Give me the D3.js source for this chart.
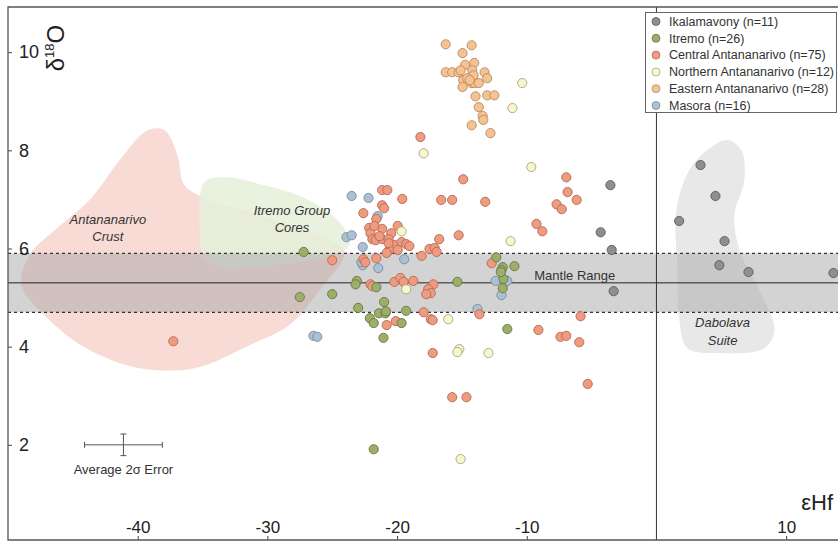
<!DOCTYPE html>
<html>
<head>
<meta charset="utf-8">
<script src="https://cdn.jsdelivr.net/npm/d3@7/dist/d3.min.js"></script>
<style>
  html, body { margin: 0; padding: 0; background: #fff; }
  svg { display: block; font-family: "Liberation Sans", Arial, sans-serif; }
</style>
</head>
<body>
<svg id="chart" width="838" height="542"></svg>
<script>
// ---- Data: [εHf, δ18O] per zircon analysis ----
const ikalamavony = [
  [-3.55, 7.29], [-4.3, 6.33], [-3.45, 5.97], [-3.3, 5.13], [1.75, 6.56], [3.4, 7.7],
  [4.55, 7.07], [5.25, 6.15], [4.85, 5.66], [7.1, 5.52], [13.65, 5.5]
];
const itremo = [
  [-27.2, 5.93], [-23.1, 5.34], [-23.2, 5.27], [-21.6, 5.21], [-15.35, 5.32], [-27.5, 5.01],
  [-25.0, 5.07], [-21.0, 4.91], [-23.0, 4.79], [-22.1, 4.58], [-21.8, 4.48], [-21.4, 4.68],
  [-20.9, 4.68], [-19.3, 4.73], [-19.65, 4.48], [-21.05, 4.18], [-12.35, 5.82], [-11.85, 5.62],
  [-10.95, 5.64], [-11.95, 5.56], [-11.8, 5.38], [-11.85, 5.19], [-11.5, 4.36], [-21.8, 1.91],
  [-20.85, 4.72], [-12.0, 5.52]
];
const centralAntananarivo = [
  [-37.25, 4.11], [-18.2, 8.27], [-14.9, 7.41], [-21.15, 7.19], [-20.75, 7.19], [-19.6, 7.01],
  [-16.6, 6.99], [-15.75, 6.99], [-21.15, 6.88], [-22.6, 6.72], [-21.6, 6.6], [-22.15, 6.42],
  [-21.15, 6.4], [-19.95, 6.46], [-20.45, 6.31], [-22.05, 6.31], [-21.9, 6.19], [-21.65, 6.17],
  [-21.15, 6.19], [-20.65, 6.19], [-15.25, 6.27], [-16.75, 6.19], [-20.2, 6.07], [-19.65, 6.13],
  [-19.3, 6.09], [-20.6, 5.97], [-20.8, 5.91], [-17.5, 5.99], [-17.1, 6.01], [-18.1, 5.85],
  [-21.6, 5.8], [-25.0, 5.76], [-22.6, 5.78], [-22.05, 5.27], [-20.2, 5.32], [-19.75, 5.4],
  [-18.75, 5.34], [-17.2, 5.27], [-17.6, 5.17], [-17.4, 5.09], [-17.95, 4.7], [-17.4, 4.56],
  [-20.1, 4.52], [-20.8, 4.44], [-17.25, 3.87], [-13.2, 6.95], [-6.95, 7.45], [-6.85, 7.15],
  [-6.15, 6.99], [-7.7, 6.9], [-7.3, 6.8], [-9.25, 6.5], [-8.8, 6.35], [-12.7, 5.7],
  [-13.65, 4.66], [-5.85, 4.62], [-9.1, 4.34], [-7.4, 4.2], [-6.95, 4.22], [-5.95, 4.09],
  [-5.3, 3.24], [-14.65, 2.97], [-15.75, 2.97], [-21.0, 6.82], [-21.75, 6.46], [-21.35, 6.25],
  [-19.95, 5.97], [-19.05, 6.05], [-20.65, 6.11], [-17.75, 5.07], [-19.5, 5.32], [-21.9, 5.23],
  [-22.45, 5.72], [-16.95, 5.93], [-17.25, 4.54]
];
const northernAntananarivo = [
  [-10.35, 9.37], [-11.1, 8.86], [-19.65, 6.35], [-19.3, 5.17], [-16.05, 4.56], [-15.2, 3.95],
  [-15.35, 3.89], [-9.65, 7.66], [-11.25, 6.15], [-12.95, 3.87], [-17.95, 7.94], [-15.1, 1.71]
];
const easternAntananarivo = [
  [-16.25, 10.16], [-14.25, 10.14], [-14.95, 9.98], [-14.75, 9.74], [-14.05, 9.78], [-16.25, 9.59],
  [-15.75, 9.59], [-15.25, 9.59], [-14.2, 9.63], [-13.25, 9.59], [-13.05, 9.47], [-14.9, 9.43],
  [-14.25, 9.37], [-14.05, 9.37], [-13.7, 9.37], [-14.95, 9.29], [-13.95, 9.1], [-13.05, 9.12],
  [-12.5, 9.12], [-13.7, 8.88], [-13.4, 8.7], [-13.35, 8.62], [-14.25, 8.51], [-12.8, 8.35],
  [-14.1, 9.53], [-14.6, 9.47], [-15.1, 9.63], [-14.4, 9.43]
];
const masora = [
  [-23.5, 7.07], [-22.2, 7.03], [-21.5, 6.66], [-23.9, 6.23], [-23.5, 6.27], [-22.65, 6.03],
  [-22.65, 5.66], [-21.45, 5.6], [-19.45, 5.78], [-26.45, 4.22], [-26.15, 4.2], [-12.4, 5.34],
  [-11.5, 5.34], [-11.95, 5.05], [-13.8, 4.77], [-22.75, 5.72]
];

// Field outlines [εHf, δ18O]
const antananarivoCrust = [
  [-48.96, 5.25], [-48.34, 5.87], [-46.41, 6.37], [-43.72, 6.99], [-41.4, 7.8], [-39.24, 8.41],
  [-37.93, 8.41], [-36.93, 7.9], [-36.39, 7.29], [-34.46, 6.99], [-30.61, 6.68], [-25.98, 6.27],
  [-24.06, 5.93], [-25.98, 5.15], [-28.3, 4.44], [-31.38, 4.03], [-35.62, 3.56], [-39.86, 3.56],
  [-43.72, 3.93], [-46.8, 4.54]
];
const itremoCores = [
  [-34.85, 7.35], [-33.31, 7.45], [-30.22, 7.29], [-27.14, 7.03], [-24.44, 6.54], [-23.67, 6.07],
  [-25.98, 5.8], [-29.84, 5.66], [-33.31, 5.6], [-34.85, 5.8], [-35.24, 6.48]
];
const dabolavaSuite = [
  [5.47, 8.21], [6.55, 8.0], [6.78, 7.39], [6.01, 6.68], [6.4, 5.97], [7.94, 5.15], [9.1, 4.34],
  [8.33, 3.97], [4.86, 3.87], [2.39, 3.97], [1.77, 4.54], [1.62, 5.56], [1.54, 6.78], [2.54, 7.6],
  [4.09, 8.04]
];

// Mantle zircon δ18O: 5.3 ± 0.6
const mantleMean = 5.3;
const mantleRange = [4.7, 5.9];

// Average analytical uncertainty (2σ)
const errorCenter = [-41.1, 2.0];
const errorHalf = [3.0, 0.22];

const xTicks = [-40, -30, -20, -10, 10];
const yTicks = [2, 4, 6, 8, 10];

const groups = [
  { name: "Ikalamavony (n=11)", data: ikalamavony, fill: "#8f8f8f", stroke: "#5c5c5c" },
  { name: "Itremo (n=26)", data: itremo, fill: "#9cae6a", stroke: "#667843" },
  { name: "Central Antananarivo (n=75)", data: centralAntananarivo, fill: "#ee9b80", stroke: "#b36953" },
  { name: "Northern Antananarivo (n=12)", data: northernAntananarivo, fill: "#f6f7cf", stroke: "#a8a67a" },
  { name: "Eastern Antananarivo (n=28)", data: easternAntananarivo, fill: "#f6c291", stroke: "#b68b60" },
  { name: "Masora (n=16)", data: masora, fill: "#abc0d2", stroke: "#7a8d9e" }
];
const drawOrder = ["Masora (n=16)", "Central Antananarivo (n=75)", "Northern Antananarivo (n=12)",
  "Itremo (n=26)", "Eastern Antananarivo (n=28)", "Ikalamavony (n=11)"];

// ---- Layout ----
const frameLeft = 8, frameRight = 838, frameTop = 7, frameBottom = 540;

const x = d3.scaleLinear().domain([-50, 14]).range([frameLeft, frameRight]);
const y = d3.scaleLinear().domain([0, 10.92]).range([543, frameTop]);

const svg = d3.select("#chart");

svg.append("defs").append("clipPath").attr("id", "plot-clip")
  .append("rect").attr("x", frameLeft).attr("y", frameTop)
  .attr("width", frameRight - frameLeft).attr("height", frameBottom - frameTop);

const plot = svg.append("g").attr("clip-path", "url(#plot-clip)");

const outline = d3.line().x(d => x(d[0])).y(d => y(d[1])).curve(d3.curveCatmullRomClosed.alpha(0.5));

// Fields
plot.append("path").datum(antananarivoCrust).attr("d", outline).attr("fill", "#f9dbd6");
plot.append("path").datum(itremoCores).attr("d", outline).attr("fill", "#e4f0d8").attr("opacity", 0.85);
plot.append("path").datum(dabolavaSuite).attr("d", outline).attr("fill", "#e8e8e8");

// Mantle band
plot.append("rect")
  .attr("x", frameLeft).attr("width", frameRight - frameLeft)
  .attr("y", y(mantleRange[1])).attr("height", y(mantleRange[0]) - y(mantleRange[1]))
  .attr("fill", "#a8a8a8").attr("opacity", 0.5);
plot.selectAll("line.mantle-edge").data(mantleRange).join("line")
  .attr("class", "mantle-edge")
  .attr("x1", frameLeft).attr("x2", frameRight)
  .attr("y1", d => y(d)).attr("y2", d => y(d))
  .attr("stroke", "#333").attr("stroke-width", 1.2).attr("stroke-dasharray", "3,3");
plot.append("line")
  .attr("x1", frameLeft).attr("x2", frameRight)
  .attr("y1", y(mantleMean)).attr("y2", y(mantleMean))
  .attr("stroke", "#222").attr("stroke-width", 1);

// εHf = 0 line
plot.append("line")
  .attr("x1", x(0)).attr("x2", x(0)).attr("y1", frameTop).attr("y2", frameBottom)
  .attr("stroke", "#333").attr("stroke-width", 1);

// Field labels
const fieldText = (lines, cx, cy, size, dy) => {
  const t = plot.append("text").attr("text-anchor", "middle").attr("font-style", "italic")
    .attr("font-size", size).attr("fill", "#333");
  lines.forEach((s, i) => t.append("tspan").attr("x", x(cx)).attr("y", y(cy) + i * dy).text(s));
};
fieldText(["Antananarivo", "Crust"], -42.3, 6.5, 13, 17);
fieldText(["Itremo Group", "Cores"], -28.1, 6.68, 13, 17);
fieldText(["Dabolava", "Suite"], 5.1, 4.4, 13, 18);

plot.append("text")
  .attr("x", x(-6.3)).attr("y", y(5.35))
  .attr("text-anchor", "middle").attr("font-size", 13).attr("fill", "#333")
  .text("Mantle Range");

// Error bar
const eb = plot.append("g").attr("stroke", "#555").attr("stroke-width", 1);
eb.append("line").attr("x1", x(errorCenter[0] - errorHalf[0])).attr("x2", x(errorCenter[0] + errorHalf[0]))
  .attr("y1", y(errorCenter[1])).attr("y2", y(errorCenter[1]));
eb.append("line").attr("x1", x(errorCenter[0])).attr("x2", x(errorCenter[0]))
  .attr("y1", y(errorCenter[1] - errorHalf[1])).attr("y2", y(errorCenter[1] + errorHalf[1]));
[-1, 1].forEach(s => {
  eb.append("line").attr("x1", x(errorCenter[0] + s * errorHalf[0])).attr("x2", x(errorCenter[0] + s * errorHalf[0]))
    .attr("y1", y(errorCenter[1]) - 3).attr("y2", y(errorCenter[1]) + 3);
  eb.append("line").attr("x1", x(errorCenter[0]) - 3).attr("x2", x(errorCenter[0]) + 3)
    .attr("y1", y(errorCenter[1] + s * errorHalf[1])).attr("y2", y(errorCenter[1] + s * errorHalf[1]));
});
plot.append("text")
  .attr("x", x(errorCenter[0])).attr("y", y(errorCenter[1]) + 29)
  .attr("text-anchor", "middle").attr("font-size", 13).attr("fill", "#333")
  .text("Average 2σ Error");

// Points
const byName = new Map(groups.map(g => [g.name, g]));
drawOrder.forEach(n => {
  const g = byName.get(n);
  plot.append("g").selectAll("circle").data(g.data).join("circle")
    .attr("cx", d => x(d[0])).attr("cy", d => y(d[1])).attr("r", 4.6)
    .attr("fill", g.fill).attr("stroke", g.stroke).attr("stroke-width", 0.9);
});

// Axes (ticks and labels sit inside the frame)
const yAxis = d3.axisRight(y).tickValues(yTicks).tickSize(4).tickPadding(7).tickSizeOuter(0)
  .tickFormat(d => String(d));
const gy = svg.append("g").attr("transform", `translate(${frameLeft},0)`).call(yAxis);
gy.select(".domain").remove();
gy.selectAll("line").attr("stroke", "#444");
gy.selectAll("text").attr("font-size", 18).attr("fill", "#222")
  .attr("font-family", "Liberation Sans, Arial, sans-serif");

const xAxis = d3.axisTop(x).tickValues(xTicks).tickSize(4).tickPadding(3).tickSizeOuter(0)
  .tickFormat(d => String(d));
const gx = svg.append("g").attr("transform", `translate(0,${frameBottom})`).call(xAxis);
gx.select(".domain").remove();
gx.selectAll("line").attr("stroke", "#444");
gx.selectAll("text").attr("font-size", 17).attr("fill", "#222")
  .attr("font-family", "Liberation Sans, Arial, sans-serif");

// Frame
svg.append("path")
  .attr("d", `M${frameRight},${frameTop}H${frameLeft}V${frameBottom}H${frameRight}`)
  .attr("fill", "none").attr("stroke", "#555").attr("stroke-width", 1.3);

// Axis titles
const yTitle = svg.append("text")
  .attr("transform", "translate(64,48) rotate(-90)")
  .attr("text-anchor", "middle").attr("font-size", 24).attr("fill", "#222");
yTitle.append("tspan").text("δ");
yTitle.append("tspan").attr("font-size", 13).attr("dy", -10).text("18");
yTitle.append("tspan").attr("dy", 10).text("O");

svg.append("text")
  .attr("x", 833).attr("y", 510).attr("text-anchor", "end")
  .attr("font-size", 22).attr("fill", "#222").text("εHf");

// Legend
const legend = svg.append("g");
legend.append("rect")
  .attr("x", 645.5).attr("y", 12.5).attr("width", 191).attr("height", 100)
  .attr("fill", "#fff").attr("stroke", "#666").attr("stroke-width", 1);
const rows = legend.selectAll("g.row").data(groups).join("g").attr("class", "row")
  .attr("transform", (d, i) => `translate(656,${21.5 + i * 16.8})`);
rows.append("circle").attr("r", 4).attr("fill", d => d.fill).attr("stroke", d => d.stroke).attr("stroke-width", 0.8);
rows.append("text").attr("x", 13).attr("dy", "0.35em").attr("font-size", 12.5).attr("fill", "#333")
  .text(d => d.name);
</script>
</body>
</html>
